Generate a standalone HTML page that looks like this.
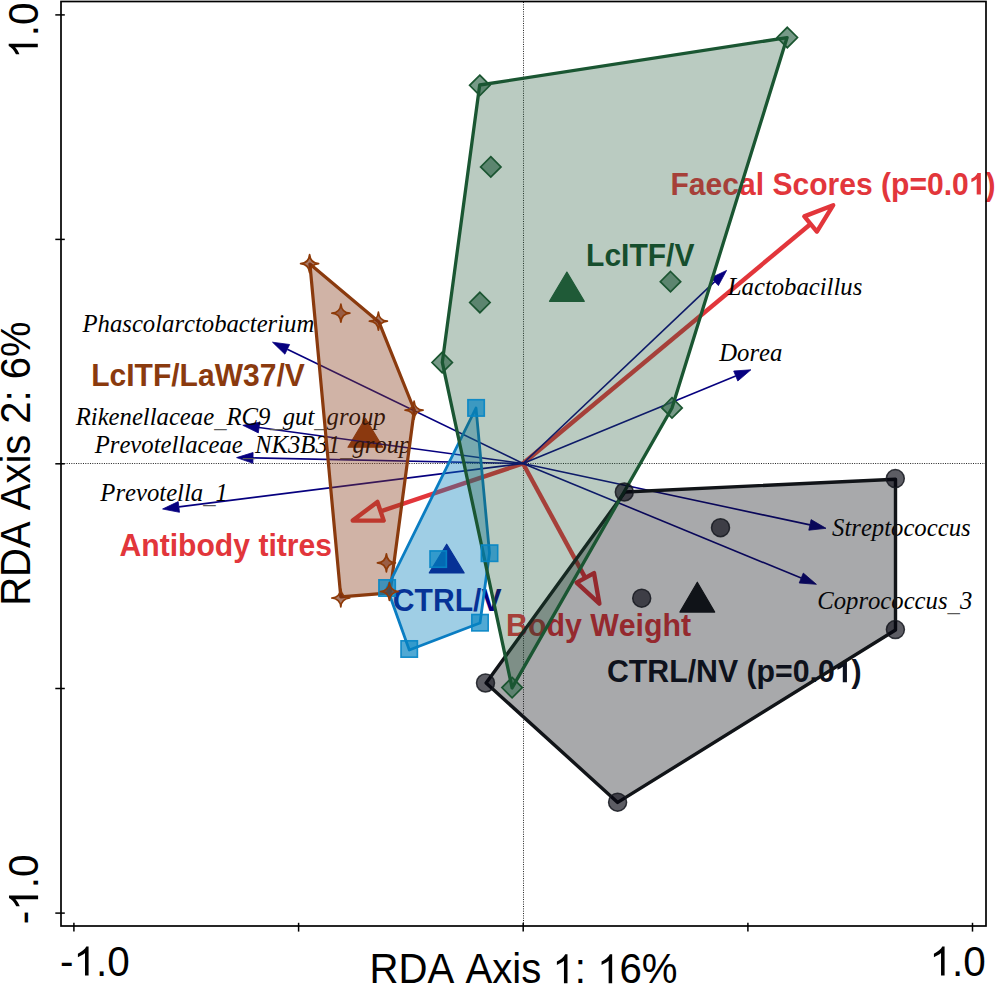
<!DOCTYPE html>
<html><head><meta charset="utf-8"><style>
html,body{margin:0;padding:0;background:#fff;width:995px;height:984px;overflow:hidden}
svg{display:block} text{font-kerning:none;font-feature-settings:"kern" 0}
</style></head><body>
<svg width="995" height="984" viewBox="0 0 995 984">
<rect width="995" height="984" fill="#fff"/>
<line x1="523.5" y1="2" x2="523.5" y2="925" stroke="#222" stroke-width="1" stroke-dasharray="1 1.33"/>
<line x1="62" y1="463.5" x2="985" y2="463.5" stroke="#222" stroke-width="1" stroke-dasharray="1 1.33"/>
<line x1="523.0" y1="463.5" x2="810.6" y2="224.0" stroke="#e2363b" stroke-width="4.4"/>
<path d="M833.2,205.2 L816.9,231.6 L804.3,216.4 Z" fill="none" stroke="#e2363b" stroke-width="4.4" stroke-linejoin="round"/>
<line x1="523.0" y1="463.5" x2="380.6" y2="511.3" stroke="#e2363b" stroke-width="4.4"/>
<path d="M352.7,520.6 L377.4,501.9 L383.7,520.6 Z" fill="none" stroke="#e2363b" stroke-width="4.4" stroke-linejoin="round"/>
<line x1="523.0" y1="463.5" x2="585.3" y2="577.9" stroke="#e2363b" stroke-width="4.4"/>
<path d="M599.4,603.7 L576.6,582.6 L594.0,573.1 Z" fill="none" stroke="#e2363b" stroke-width="4.4" stroke-linejoin="round"/>
<g transform="translate(670.50,194.6) scale(1,1.045)"><text font-family="Liberation Sans" font-size="30.07" fill="#e2363b" font-weight="bold">Faecal Scores (p=0.0 )</text><path transform="translate(298.365,0) scale(0.01468,-0.01405)" d="M815 0H534V1059Q380 915 171 846V1101Q281 1137 410 1237Q539 1337 587 1472H815Z" fill="#e2363b"/></g>
<g transform="translate(119.55,555.8) scale(1,1.045)"><text font-family="Liberation Sans" font-size="30.12" fill="#e2363b" font-weight="bold">Antibody titres</text></g>
<g transform="translate(506.00,636) scale(1,1.045)"><text font-family="Liberation Sans" font-size="30.31" fill="#e2363b" font-weight="bold">Body Weight</text></g>
<path d="M566.9,272.1 L549.5,301.3 L584.3,301.3 Z" fill="#1f5c38" stroke="#1f5c38" stroke-width="1.2" stroke-linejoin="round"/>
<path d="M365.4,418.3 L348.0,447.2 L382.8,447.2 Z" fill="#8e3909" stroke="#8e3909" stroke-width="1.2" stroke-linejoin="round"/>
<path d="M446.7,544.2 L429.3,572.9 L464.1,572.9 Z" fill="#06007f" stroke="#06007f" stroke-width="1.2" stroke-linejoin="round"/>
<path d="M697.3,582.2 L679.9,612.1 L714.7,612.1 Z" fill="#111418" stroke="#111418" stroke-width="1.2" stroke-linejoin="round"/>
<line x1="523.0" y1="463.5" x2="714.7" y2="281.7" stroke="#06007f" stroke-width="1.6"/>
<path d="M726.6,270.4 L718.4,285.6 L711.0,277.8 Z" fill="#06007f" stroke="#06007f" stroke-width="0.8" stroke-linejoin="round"/>
<line x1="523.0" y1="463.5" x2="735.7" y2="376.0" stroke="#06007f" stroke-width="1.6"/>
<path d="M750.9,369.8 L737.8,381.0 L733.7,371.0 Z" fill="#06007f" stroke="#06007f" stroke-width="0.8" stroke-linejoin="round"/>
<line x1="523.0" y1="463.5" x2="287.3" y2="349.3" stroke="#06007f" stroke-width="1.6"/>
<path d="M272.5,342.2 L289.6,344.5 L284.9,354.2 Z" fill="#06007f" stroke="#06007f" stroke-width="0.8" stroke-linejoin="round"/>
<line x1="523.0" y1="463.5" x2="259.0" y2="427.5" stroke="#06007f" stroke-width="1.6"/>
<path d="M242.8,425.3 L259.8,422.2 L258.3,432.9 Z" fill="#06007f" stroke="#06007f" stroke-width="0.8" stroke-linejoin="round"/>
<line x1="523.0" y1="463.5" x2="253.0" y2="457.9" stroke="#06007f" stroke-width="1.6"/>
<path d="M236.6,457.6 L253.1,452.5 L252.9,463.3 Z" fill="#06007f" stroke="#06007f" stroke-width="0.8" stroke-linejoin="round"/>
<line x1="523.0" y1="463.5" x2="178.9" y2="506.9" stroke="#06007f" stroke-width="1.6"/>
<path d="M162.6,509.0 L178.2,501.6 L179.5,512.3 Z" fill="#06007f" stroke="#06007f" stroke-width="0.8" stroke-linejoin="round"/>
<line x1="523.0" y1="463.5" x2="810.0" y2="524.9" stroke="#06007f" stroke-width="1.6"/>
<path d="M826.0,528.3 L808.8,530.2 L811.1,519.6 Z" fill="#06007f" stroke="#06007f" stroke-width="0.8" stroke-linejoin="round"/>
<line x1="523.0" y1="463.5" x2="801.2" y2="578.1" stroke="#06007f" stroke-width="1.6"/>
<path d="M816.4,584.3 L799.2,583.0 L803.3,573.1 Z" fill="#06007f" stroke="#06007f" stroke-width="0.8" stroke-linejoin="round"/>
<g transform="translate(727.85,294.5)"><text font-family="Liberation Serif" font-size="24.70" fill="#000" font-style="italic">Lactobacillus</text></g>
<g transform="translate(719.25,361.2)"><text font-family="Liberation Serif" font-size="24.70" fill="#000" font-style="italic">Dorea</text></g>
<g transform="translate(82.50,332)"><text font-family="Liberation Serif" font-size="24.70" fill="#000" font-style="italic">Phascolarctobacterium</text></g>
<g transform="translate(75.70,424.8)"><text font-family="Liberation Serif" font-size="24.70" fill="#000" font-style="italic">Rikenellaceae<tspan dy="2.4" fill="#5a5a5a">_</tspan><tspan dy="-2.4">​</tspan>RC9<tspan dy="2.4" fill="#5a5a5a">_</tspan><tspan dy="-2.4">​</tspan>gut<tspan dy="2.4" fill="#5a5a5a">_</tspan><tspan dy="-2.4">​</tspan>group</text></g>
<g transform="translate(94.70,453.3)"><text font-family="Liberation Serif" font-size="24.70" fill="#000" font-style="italic">Prevotellaceae<tspan dy="2.4" fill="#5a5a5a">_</tspan><tspan dy="-2.4">​</tspan>NK3B31<tspan dy="2.4" fill="#5a5a5a">_</tspan><tspan dy="-2.4">​</tspan>group</text></g>
<g transform="translate(100.35,500.8)"><text font-family="Liberation Serif" font-size="24.70" fill="#000" font-style="italic">Prevotella<tspan dy="2.4" fill="#5a5a5a">_</tspan><tspan dy="-2.4">​</tspan>1</text></g>
<g transform="translate(832.10,536.2)"><text font-family="Liberation Serif" font-size="24.70" fill="#000" font-style="italic">Streptococcus</text></g>
<g transform="translate(817.25,608.9)"><text font-family="Liberation Serif" font-size="24.70" fill="#000" font-style="italic">Coprococcus<tspan dy="2.4" fill="#5a5a5a">_</tspan><tspan dy="-2.4">​</tspan>3</text></g>
<g transform="translate(586.10,265.5) scale(1,1.045)"><text font-family="Liberation Sans" font-size="30.01" fill="#124a29" font-weight="bold">LcITF/V</text></g>
<g transform="translate(91.15,386) scale(1,1.045)"><text font-family="Liberation Sans" font-size="30.05" fill="#8a3a0e" font-weight="bold">LcITF/LaW37/V</text></g>
<g transform="translate(392.85,610.7) scale(1,1.045)"><text font-family="Liberation Sans" font-size="30.11" fill="#06007f" font-weight="bold">CTRL/V</text></g>
<g transform="translate(607.00,682.3) scale(1,1.045)"><text font-family="Liberation Sans" font-size="30.27" fill="#0d1220" font-weight="bold">CTRL/NV (p=0.0 )</text><path transform="translate(227.897,0) scale(0.01478,-0.01414)" d="M815 0H534V1059Q380 915 171 846V1101Q281 1137 410 1237Q539 1337 587 1472H815Z" fill="#0d1220"/></g>
<path d="M309.9,264.0 L378.9,321.9 L414.3,410.0 L390.0,592.8 L340.8,596.8 Z" fill="#863c1b" fill-opacity="0.39" stroke="#8a3a0e" stroke-width="3.2" stroke-linejoin="round"/>
<path d="M476.0,408.0 L489.5,553.0 L480.0,623.0 L409.3,650.0 L387.1,588.0 Z" fill="#0981bc" fill-opacity="0.39" stroke="#0a7dc2" stroke-width="2.8" stroke-linejoin="round"/>
<path d="M486.1,683.0 L624.9,492.0 L895.5,479.2 L895.5,630.0 L617.7,802.4 Z" fill="#111418" fill-opacity="0.365" stroke="#111418" stroke-width="3.4" stroke-linejoin="round"/>
<path d="M479.8,75.1 L490.0,85.3 L479.8,95.5 L469.6,85.3 Z" fill="#43735a" fill-opacity="0.72" stroke="#1a5530" stroke-width="1.7"/>
<path d="M490.8,156.7 L501.0,166.9 L490.8,177.1 L480.6,166.9 Z" fill="#43735a" fill-opacity="0.72" stroke="#1a5530" stroke-width="1.7"/>
<path d="M787.3,27.3 L797.5,37.5 L787.3,47.7 L777.1,37.5 Z" fill="#43735a" fill-opacity="0.72" stroke="#1a5530" stroke-width="1.7"/>
<path d="M479.9,292.3 L490.1,302.5 L479.9,312.7 L469.7,302.5 Z" fill="#43735a" fill-opacity="0.72" stroke="#1a5530" stroke-width="1.7"/>
<path d="M442.2,352.3 L452.4,362.5 L442.2,372.7 L432.0,362.5 Z" fill="#43735a" fill-opacity="0.72" stroke="#1a5530" stroke-width="1.7"/>
<path d="M672.0,397.7 L682.2,407.9 L672.0,418.1 L661.8,407.9 Z" fill="#43735a" fill-opacity="0.72" stroke="#1a5530" stroke-width="1.7"/>
<path d="M670.5,271.5 L680.7,281.7 L670.5,291.9 L660.3,281.7 Z" fill="#43735a" fill-opacity="0.72" stroke="#1a5530" stroke-width="1.7"/>
<path d="M512.1,677.4 L522.3,687.6 L512.1,697.8 L501.9,687.6 Z" fill="#43735a" fill-opacity="0.72" stroke="#1a5530" stroke-width="1.7"/>
<path d="M479.7,85.0 L787.1,37.6 L672.0,408.0 L512.1,687.9 L442.3,362.4 Z" fill="#205737" fill-opacity="0.31" stroke="#1a5632" stroke-width="3.3" stroke-linejoin="round"/>
<circle cx="485.5" cy="683.0" r="9.0" fill="#03030e" fill-opacity="0.645" stroke="#15171f" stroke-opacity="0.85" stroke-width="1.5"/>
<circle cx="624.3" cy="492.0" r="9.0" fill="#03030e" fill-opacity="0.645" stroke="#15171f" stroke-opacity="0.85" stroke-width="1.5"/>
<circle cx="895.3" cy="478.6" r="9.0" fill="#03030e" fill-opacity="0.645" stroke="#15171f" stroke-opacity="0.85" stroke-width="1.5"/>
<circle cx="895.4" cy="629.6" r="9.0" fill="#03030e" fill-opacity="0.645" stroke="#15171f" stroke-opacity="0.85" stroke-width="1.5"/>
<circle cx="617.6" cy="802.2" r="9.0" fill="#03030e" fill-opacity="0.645" stroke="#15171f" stroke-opacity="0.85" stroke-width="1.5"/>
<circle cx="720.5" cy="527.7" r="9.0" fill="#03030e" fill-opacity="0.645" stroke="#15171f" stroke-opacity="0.85" stroke-width="1.5"/>
<circle cx="641.7" cy="598.2" r="9.0" fill="#03030e" fill-opacity="0.645" stroke="#15171f" stroke-opacity="0.85" stroke-width="1.5"/>
<rect x="467.9" y="399.7" width="16.4" height="16.4" fill="#0382c1" fill-opacity="0.69" stroke="#0585c5" stroke-opacity="0.92" stroke-width="1.6"/>
<rect x="481.3" y="545.0" width="16.4" height="16.4" fill="#0382c1" fill-opacity="0.69" stroke="#0585c5" stroke-opacity="0.92" stroke-width="1.6"/>
<rect x="430.0" y="550.9" width="16.4" height="16.4" fill="#0382c1" fill-opacity="0.69" stroke="#0585c5" stroke-opacity="0.92" stroke-width="1.6"/>
<rect x="378.9" y="579.8" width="16.4" height="16.4" fill="#0382c1" fill-opacity="0.69" stroke="#0585c5" stroke-opacity="0.92" stroke-width="1.6"/>
<rect x="471.8" y="614.5" width="16.4" height="16.4" fill="#0382c1" fill-opacity="0.69" stroke="#0585c5" stroke-opacity="0.92" stroke-width="1.6"/>
<rect x="401.0" y="640.8" width="16.4" height="16.4" fill="#0382c1" fill-opacity="0.69" stroke="#0585c5" stroke-opacity="0.92" stroke-width="1.6"/>
<path d="M309.6,254.6 Q310.3,262.9 318.6,263.6 Q310.3,264.3 309.6,272.6 Q308.9,264.3 300.6,263.6 Q308.9,262.9 309.6,254.6 Z" fill="#792c0e" fill-opacity="0.63" stroke="#8e3a08" stroke-width="1.7" stroke-linejoin="round"/>
<path d="M340.9,304.2 Q341.6,312.5 349.9,313.2 Q341.6,313.9 340.9,322.2 Q340.2,313.9 331.9,313.2 Q340.2,312.5 340.9,304.2 Z" fill="#792c0e" fill-opacity="0.63" stroke="#8e3a08" stroke-width="1.7" stroke-linejoin="round"/>
<path d="M378.4,312.2 Q379.1,320.5 387.4,321.2 Q379.1,321.9 378.4,330.2 Q377.7,321.9 369.4,321.2 Q377.7,320.5 378.4,312.2 Z" fill="#792c0e" fill-opacity="0.63" stroke="#8e3a08" stroke-width="1.7" stroke-linejoin="round"/>
<path d="M414.1,401.2 Q414.8,409.5 423.1,410.2 Q414.8,410.9 414.1,419.2 Q413.4,410.9 405.1,410.2 Q413.4,409.5 414.1,401.2 Z" fill="#792c0e" fill-opacity="0.63" stroke="#8e3a08" stroke-width="1.7" stroke-linejoin="round"/>
<path d="M386.4,553.9 Q387.1,562.2 395.4,562.9 Q387.1,563.6 386.4,571.9 Q385.7,563.6 377.4,562.9 Q385.7,562.2 386.4,553.9 Z" fill="#792c0e" fill-opacity="0.63" stroke="#8e3a08" stroke-width="1.7" stroke-linejoin="round"/>
<path d="M389.4,582.5 Q390.1,590.8 398.4,591.5 Q390.1,592.2 389.4,600.5 Q388.7,592.2 380.4,591.5 Q388.7,590.8 389.4,582.5 Z" fill="#792c0e" fill-opacity="0.63" stroke="#8e3a08" stroke-width="1.7" stroke-linejoin="round"/>
<path d="M340.8,589.0 Q341.5,597.3 349.8,598.0 Q341.5,598.7 340.8,607.0 Q340.1,598.7 331.8,598.0 Q340.1,597.3 340.8,589.0 Z" fill="#792c0e" fill-opacity="0.63" stroke="#8e3a08" stroke-width="1.7" stroke-linejoin="round"/>
<rect x="61" y="1.5" width="925" height="924.5" fill="none" stroke="#000" stroke-width="1.7"/>
<line x1="55.3" y1="14.9" x2="64.8" y2="14.9" stroke="#000" stroke-width="1.5"/>
<line x1="55.3" y1="239.4" x2="64.8" y2="239.4" stroke="#000" stroke-width="1.5"/>
<line x1="55.3" y1="463.8" x2="64.8" y2="463.8" stroke="#000" stroke-width="1.5"/>
<line x1="55.3" y1="688.5" x2="64.8" y2="688.5" stroke="#000" stroke-width="1.5"/>
<line x1="55.3" y1="913.1" x2="64.8" y2="913.1" stroke="#000" stroke-width="1.5"/>
<line x1="73.9" y1="922.8" x2="73.9" y2="931.6" stroke="#000" stroke-width="1.5"/>
<line x1="298.6" y1="922.8" x2="298.6" y2="931.6" stroke="#000" stroke-width="1.5"/>
<line x1="523.2" y1="922.8" x2="523.2" y2="931.6" stroke="#000" stroke-width="1.5"/>
<line x1="747.9" y1="922.8" x2="747.9" y2="931.6" stroke="#000" stroke-width="1.5"/>
<line x1="972.5" y1="922.8" x2="972.5" y2="931.6" stroke="#000" stroke-width="1.5"/>
<g transform="translate(60.00,975.6) scale(1,1.045)"><text font-family="Liberation Sans" font-size="40.50" fill="#000">- .0</text><path transform="translate(13.487,0) scale(0.01978,-0.01892)" d="M763 0H583V1147Q518 1085 412.5 1023Q307 961 223 930V1104Q374 1175 487 1276Q600 1377 647 1472H763Z" fill="#000"/></g>
<g transform="translate(929.50,975.6) scale(1,1.045)"><text font-family="Liberation Sans" font-size="40.50" fill="#000"> .0</text><path transform="translate(0.000,0) scale(0.01978,-0.01892)" d="M763 0H583V1147Q518 1085 412.5 1023Q307 961 223 930V1104Q374 1175 487 1276Q600 1377 647 1472H763Z" fill="#000"/></g>
<g transform="translate(369.40,983.2) scale(1,1.045)"><text font-family="Liberation Sans" font-size="40.19" fill="#000">RDA Axis  :  6%</text><path transform="translate(183.112,0) scale(0.01962,-0.01878)" d="M763 0H583V1147Q518 1085 412.5 1023Q307 961 223 930V1104Q374 1175 487 1276Q600 1377 647 1472H763Z" fill="#000"/><path transform="translate(227.796,0) scale(0.01962,-0.01878)" d="M763 0H583V1147Q518 1085 412.5 1023Q307 961 223 930V1104Q374 1175 487 1276Q600 1377 647 1472H763Z" fill="#000"/></g>
<g transform="translate(37.8,58.75) rotate(-90) scale(1,1.045)"><text font-family="Liberation Sans" font-size="40.50" fill="#000"> .0</text><path transform="translate(0.000,0) scale(0.01978,-0.01892)" d="M763 0H583V1147Q518 1085 412.5 1023Q307 961 223 930V1104Q374 1175 487 1276Q600 1377 647 1472H763Z" fill="#000"/></g>
<g transform="translate(38.1,924.20) rotate(-90) scale(1,1.045)"><text font-family="Liberation Sans" font-size="40.50" fill="#000">- .0</text><path transform="translate(13.487,0) scale(0.01978,-0.01892)" d="M763 0H583V1147Q518 1085 412.5 1023Q307 961 223 930V1104Q374 1175 487 1276Q600 1377 647 1472H763Z" fill="#000"/></g>
<g transform="translate(30.0,605.80) rotate(-90) scale(1,1.045)"><text font-family="Liberation Sans" font-size="40.00" fill="#000">RDA Axis 2: 6%</text></g>
</svg>
</body></html>
